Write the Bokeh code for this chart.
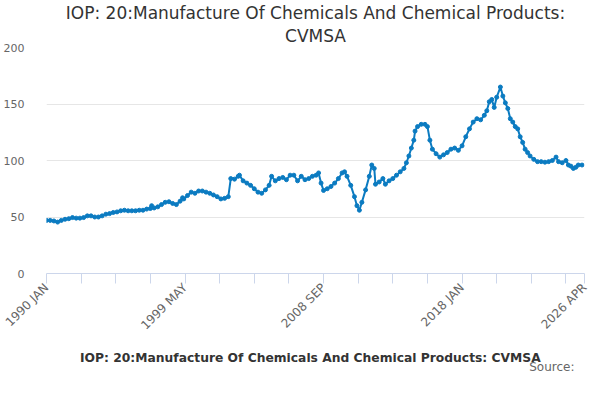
from bokeh.plotting import figure
from bokeh.layouts import column
from bokeh.models import Range1d, FixedTicker, Title, Legend, LegendItem, Label
from bokeh.embed import file_html
from bokeh.resources import INLINE

title_lines = ["IOP: 20:Manufacture Of Chemicals And Chemical Products:", "CVMSA"]
series_name = "IOP: 20:Manufacture Of Chemicals And Chemical Products: CVMSA"

dates = [
    "1990-01", "1990-04", "1990-07", "1990-10", "1991-01", "1991-04", "1991-07", "1991-10",
    "1992-01", "1992-04", "1992-07", "1992-10", "1993-01", "1993-04", "1993-07", "1993-10",
    "1994-01", "1994-04", "1994-07", "1994-10", "1995-01", "1995-04", "1995-07", "1995-10",
    "1996-01", "1996-04", "1996-07", "1996-10", "1997-01", "1997-02", "1997-04", "1997-07",
    "1997-10", "1998-01", "1998-04", "1998-07", "1998-10", "1999-01", "1999-03", "1999-04",
    "1999-07", "1999-10", "2000-01", "2000-04", "2000-07", "2000-10", "2001-01", "2001-04",
    "2001-07", "2001-10", "2002-01", "2002-04", "2002-06", "2002-09", "2002-12", "2003-01",
    "2003-04", "2003-07", "2003-10", "2004-01", "2004-04", "2004-07", "2004-10", "2005-01",
    "2005-03", "2005-06", "2005-09", "2005-12", "2006-03", "2006-06", "2006-09", "2006-12",
    "2007-03", "2007-06", "2007-09", "2007-12", "2008-03", "2008-05", "2008-07", "2008-09",
    "2008-12", "2009-03", "2009-06", "2009-09", "2009-12", "2010-02", "2010-04", "2010-07",
    "2010-10", "2010-12", "2011-02", "2011-04", "2011-07", "2011-10", "2011-12", "2012-02",
    "2012-03", "2012-06", "2012-09", "2012-11", "2013-02", "2013-05", "2013-08", "2013-11",
    "2014-02", "2014-04", "2014-06", "2014-08", "2014-10", "2014-11", "2015-01", "2015-04",
    "2015-07", "2015-09", "2015-11", "2016-01", "2016-04", "2016-07", "2016-10", "2017-01",
    "2017-04", "2017-07", "2017-10", "2018-01", "2018-04", "2018-07", "2018-10", "2019-01",
    "2019-04", "2019-07", "2019-09", "2019-11", "2020-01", "2020-03", "2020-05", "2020-08",
    "2020-10", "2020-12", "2021-02", "2021-04", "2021-06", "2021-08", "2021-10", "2021-12",
    "2022-02", "2022-04", "2022-06", "2022-08", "2022-11", "2023-02", "2023-05", "2023-08",
    "2023-11", "2024-02", "2024-05", "2024-07", "2024-10", "2025-01", "2025-03", "2025-05",
    "2025-07", "2025-09", "2025-11", "2026-02",
]
values = [
    47, 47, 46.5, 45.5, 47, 48, 48.5, 49.5,
    49, 49, 49.5, 51, 51, 50, 50, 51,
    52.5, 53, 54, 54.5, 55.5, 56, 55.5, 55.5,
    55.5, 56, 56, 57, 57.5, 60, 58, 59,
    61, 63, 63.5, 62, 61, 64, 67, 66,
    69, 72, 71, 73, 73, 72, 71, 69.5,
    68, 66, 66.5, 68, 84, 83.5, 86, 87,
    82, 80, 78, 75, 72, 71, 74, 78,
    86, 82, 84, 85, 83, 87, 87, 82,
    86, 83, 84, 86, 87, 89, 80, 73.5,
    75, 77, 80, 84, 89, 90, 86, 78,
    68, 60, 56, 63, 74, 86, 96, 93,
    79, 81, 84, 79, 82, 84, 87, 90,
    93, 98, 104, 111, 118, 126, 130, 132,
    132, 130, 118, 110, 106, 103, 105, 107,
    110, 111, 109, 113, 121, 128, 134, 137,
    136, 140, 144, 152, 154, 147, 156, 165,
    157, 151, 146, 137, 134, 130, 128, 121,
    116, 110, 107, 104, 101, 99, 99, 98.5,
    99, 100, 103, 99, 98, 100, 96, 95,
    93, 94, 96, 96,
]

tick_months = [0, 28, 56, 84, 112, 140, 168, 196, 224, 252, 280, 308, 336, 364, 392, 420, 435]
tick_labels = {0: "1990 JAN", 112: "1999 MAY", 224: "2008 SEP", 336: "2018 JAN", 435: "2026 APR"}
y_ticks = [0, 50, 100, 150, 200]

# months since 1990 JAN
x = [(int(d[:4]) - 1990) * 12 + int(d[5:]) - 1 for d in dates]

blue = "#0b7bc1"
p = figure(frame_width=538, frame_height=226, x_range=Range1d(0, 435), y_range=Range1d(0, 200),
           output_backend="svg", toolbar_location=None,
           min_border_left=0, min_border_right=7, min_border_top=0, min_border_bottom=0)
p.outline_line_color = None

p.line(x, values, line_color=blue, line_width=2)
p.scatter(x, values, size=4, fill_color=blue, line_color=blue)

# title standoff is the gap above each line; an invisible tiny title gives room over the frame
spacer = Title(text=".", text_font_size="2px", text_alpha=0, standoff=16)
t2 = Title(text=title_lines[1], align="center", text_font="DejaVu Sans", text_font_size="17px",
           text_font_style="normal", text_color="#333333", text_line_height=1.0, standoff=3)
t1 = Title(text=title_lines[0], align="center", text_font="DejaVu Sans", text_font_size="17px",
           text_font_style="normal", text_color="#333333", text_line_height=1.0, standoff=0)
p.add_layout(spacer, "above")
p.add_layout(t2, "above")
p.add_layout(t1, "above")

p.xaxis.ticker = FixedTicker(ticks=tick_months)
p.xaxis.major_label_overrides = {m: tick_labels.get(m, "") for m in tick_months}
p.xaxis.major_label_orientation = 0.785398
p.xaxis.axis_line_color = "#ccd6eb"
p.xaxis.major_tick_line_color = "#ccd6eb"
p.xaxis.major_tick_out = 10
p.xaxis.major_tick_in = 0
p.xaxis.minor_tick_line_color = None
p.xaxis.major_label_text_color = "#666666"
p.xaxis.major_label_text_font = "DejaVu Sans"
p.xaxis.major_label_text_font_size = "12px"
p.xaxis.major_label_standoff = 2

p.yaxis.ticker = FixedTicker(ticks=y_ticks)
p.yaxis.axis_line_color = None
p.yaxis.major_tick_line_color = None
p.yaxis.minor_tick_line_color = None
p.yaxis.major_label_text_color = "#666666"
p.yaxis.major_label_text_font = "DejaVu Sans"
p.yaxis.major_label_text_font_size = "11px"
p.yaxis.major_label_standoff = 16

p.xgrid.grid_line_color = None
p.ygrid.grid_line_color = "#e6e6e6"

# strip below the chart for the legend and the source note
leg_h = 32
leg = figure(width=584, height=leg_h, x_range=Range1d(0, 584), y_range=Range1d(leg_h, 0),
             output_backend="svg", toolbar_location=None,
             x_axis_location=None, y_axis_location=None,
             min_border_left=0, min_border_right=0, min_border_top=0, min_border_bottom=0)
leg.outline_line_color = None
leg.grid.visible = False
k1 = leg.line([], [], line_color=blue, line_width=2)
k2 = leg.scatter([], [], size=4, fill_color=blue, line_color=blue)

legend = Legend(items=[LegendItem(label=series_name, renderers=[k1, k2])],
                location=(13, 7), orientation="horizontal",
                border_line_color=None, background_fill_alpha=0,
                label_text_font="DejaVu Sans", label_text_font_size="12.3px",
                label_text_font_style="bold", label_text_color="#333333",
                glyph_width=16, glyph_height=14, label_standoff=5, padding=0, margin=0)
leg.add_layout(legend)
leg.add_layout(Label(x=528, y=26, x_units="screen", text="Source:", text_align="right",
                     text_baseline="middle", text_font="DejaVu Sans", text_font_size="12px",
                     text_color="#666666"))

open("out.html", "w").write(file_html(column(p, leg), INLINE))
